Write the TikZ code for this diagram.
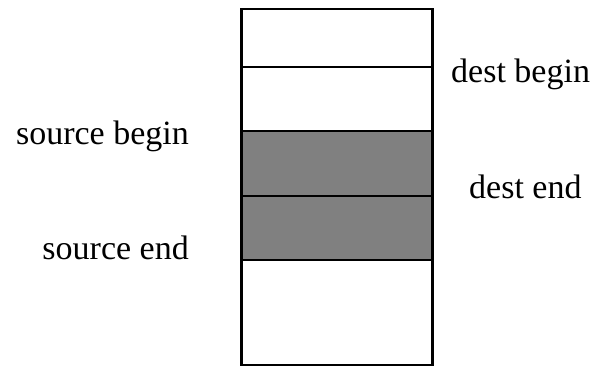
\documentclass[tikz,border=0pt]{standalone}
\usepackage{fontspec}
\setmainfont{Liberation Serif}
\begin{document}
\begin{tikzpicture}[x=1pt,y=-1pt,
  outer/.style={draw=black,line width=2.7pt},
  divider/.style={draw=black,line width=2pt},
  shaded/.style={fill=black!50!white},
  lbl/.style={inner sep=0pt,anchor=base west,font=\fontsize{34}{34}\selectfont}]
\useasboundingbox (0,0) rectangle (593,366);
\fill[shaded] (241.5,131.5) rectangle (432.5,260);
\draw[divider] (241.5,67) -- (432.5,67);
\draw[divider] (241.5,131.5) -- (432.5,131.5);
\draw[divider] (241.5,196) -- (432.5,196);
\draw[divider] (241.5,260) -- (432.5,260);
\draw[outer] (241.5,9) rectangle (432.5,365);
\node[lbl] (db) at (451,83) {dest begin};
\node[lbl,anchor=base east] (sb) at (189,144) {source begin};
\node[lbl] (de) at (469,198) {dest end};
\node[lbl,anchor=base east] (se) at (189,259) {source end};
\end{tikzpicture}
\end{document}
